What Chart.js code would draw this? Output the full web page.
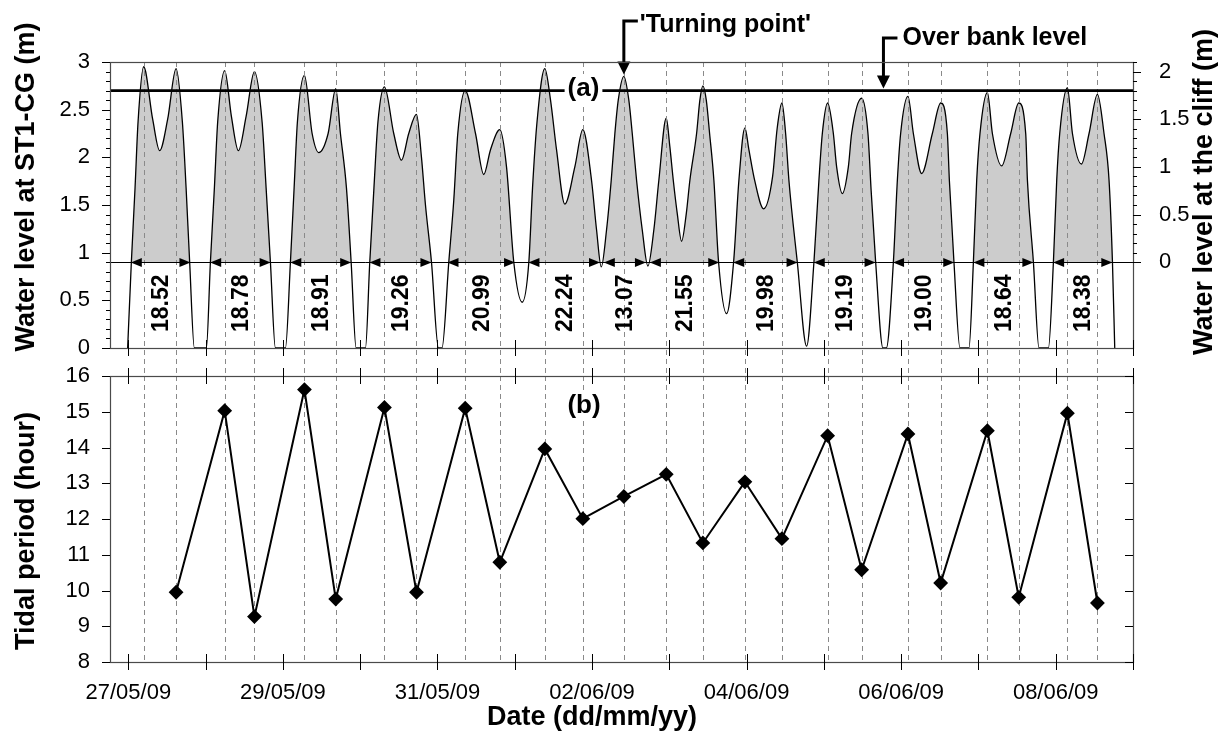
<!DOCTYPE html>
<html>
<head>
<meta charset="utf-8">
<script src="https://cdn.jsdelivr.net/npm/chart.js@4.4.1/dist/chart.umd.min.js"></script>
<style>
  html, body { margin: 0; padding: 0; background: #fff; }
  #wrap { position: relative; width: 1227px; height: 746px; }
  canvas { position: absolute; left: 0; top: 0; }
</style>
</head>
<body>
<div id="wrap">
  <canvas id="lower" width="1227" height="746"></canvas>
  <canvas id="upper" width="1227" height="746"></canvas>
</div>
<script>
// Hours counted from 27/05/09 00:00.

// (a) water level at ST1-CG (m): sample times and levels
const levelHours = [
  -0.22, 0.93, 2.08, 3.01, 4.75, 7.55, 9.72, 12.21, 14.82, 16.78, 17.93, 19.04, 20.50, 24.23,
  25.48, 26.72, 27.74, 29.92, 32.00, 34.17, 36.57, 39.15, 41.54, 42.78, 44.12, 45.67, 48.78,
  50.33, 51.48, 52.50, 54.68, 57.07, 59.12, 62.04, 64.40, 65.86, 67.73, 69.19, 70.74, 73.63,
  74.97, 76.27, 77.51, 79.53, 82.42, 84.82, 87.08, 89.48, 91.03, 92.27, 94.14, 96.31, 97.40,
  99.51, 101.06, 102.31, 104.61, 107.81, 110.38, 112.47, 115.36, 117.44, 119.70, 122.31,
  124.37, 125.52, 126.91, 129.34, 131.11, 132.97, 135.55, 138.66, 141.14, 143.84, 145.40, 146.86,
  148.51, 149.96, 151.09, 152.14, 153.88, 155.43, 156.49, 157.83, 159.59, 161.34,
  163.20, 164.75, 167.05, 168.14, 169.23, 170.47, 171.81, 173.27, 174.39, 176.47, 177.49, 178.42,
  179.48, 180.51, 181.84, 183.30, 185.79,
  187.96, 189.61, 191.47, 192.71, 194.49, 197.28, 200.08, 201.48, 202.97, 204.12, 205.14, 207.75, 210.64,
  212.91, 214.46, 215.52, 217.17, 218.94, 219.96, 221.73, 223.60, 224.62, 227.73, 229.69, 230.68, 232.08, 234.35, 235.40,
  237.58, 238.82, 239.84, 242.11, 243.79, 246.37, 249.69, 252.27, 254.35, 254.97, 256.40, 258.27, 261.06,
  262.43, 263.46, 264.48, 266.78, 268.33, 271.22, 274.02, 276.51, 278.68, 279.21, 281.07, 282.81, 285.73,
  287.28, 288.31, 289.24, 291.63, 293.19, 295.98, 298.35, 300.95, 303.00, 304.56, 305.62, 306.33
];
const levelMetres = [
  0.00, 0.90, 1.68, 2.37, 2.95, 2.40, 2.07, 2.40, 2.93, 2.37, 1.68, 0.90, 0.00, 0.00,
  0.90, 1.68, 2.37, 2.91, 2.43, 2.07, 2.43, 2.90, 2.37, 1.68, 0.90, 0.00, 0.00,
  0.90, 1.68, 2.37, 2.86, 2.25, 2.05, 2.25, 2.72, 2.25, 1.68, 0.90, 0.00, 0.00,
  0.90, 1.68, 2.37, 2.74, 2.25, 1.97, 2.25, 2.45, 2.00, 1.50, 0.90, 0.00, 0.00,
  0.90, 1.55, 2.25, 2.70, 2.25, 1.82, 2.08, 2.29, 1.90, 0.90, 0.48,
  0.90, 1.68, 2.37, 2.93, 2.60, 2.08, 1.51, 1.90, 2.29, 1.76, 1.24, 0.85,
  1.24, 1.76, 2.25, 2.60, 2.85, 2.60, 2.25, 1.76, 1.24, 0.86,
  1.24, 1.76, 2.41, 2.12, 1.76, 1.41, 1.12, 1.41, 1.76, 2.25, 2.60, 2.75,
  2.60, 2.25, 1.76, 0.90, 0.36,
  0.90, 1.76, 2.31, 2.08, 1.76, 1.46, 1.80, 2.30, 2.57, 2.25, 1.76, 0.90, 0.02,
  0.90, 1.76, 2.25, 2.57, 2.25, 1.90, 1.62, 1.90, 2.25, 2.62, 2.25, 1.65, 0.90, 0.00, 0.00,
  0.90, 1.76, 2.25, 2.64, 2.25, 1.83, 2.25, 2.57, 2.25, 1.76, 0.90, 0.00, 0.00,
  0.90, 1.76, 2.25, 2.68, 2.25, 1.91, 2.25, 2.57, 2.25, 1.76, 0.90, 0.00, 0.00,
  0.90, 1.76, 2.25, 2.73, 2.25, 1.93, 2.25, 2.66, 2.25, 1.76, 0.90, 0.00
];

// High-water times (dashed markers) and the tidal period ending at each of them
const highWaterHours = [
  4.75, 14.82, 29.92, 39.15, 54.68, 64.40, 79.53, 89.48, 104.61, 115.36, 129.34, 141.14, 153.88,
  167.05, 178.42, 191.47, 202.97, 217.17, 227.73, 242.11, 252.27, 266.78, 276.51, 291.63, 300.95
];
const tidalPeriodHours = [
  9.95, 15.03, 9.27, 15.62, 9.76, 15.12, 9.95, 15.10, 10.79, 13.96, 12.01, 12.63,
  13.25, 11.33, 13.04, 11.45, 14.33, 10.58, 14.38, 10.21, 14.47, 9.81, 14.96, 9.65
];

// Periods with the water above the cliff datum: start time and duration (hours)
const floodStartHours = [0.77, 25.41, 50.29, 74.87, 99.11, 124.24, 147.66, 161.96, 187.85, 212.86, 237.49, 262.43, 287.20];
const floodDurations = [18.52, 18.78, 18.91, 19.26, 20.99, 22.24, 13.07, 21.55, 19.98, 19.19, 19.00, 18.64, 18.38];

const cliffDatum = 0.9;      // 0 m at the cliff, expressed at ST1-CG
const overBankLevel = 2.7;   // over bank level at ST1-CG
const turningPointIndex = 12;
const overBankNoteHour = 234.5;

const X_MIN = -5.7, X_MAX = 312;
const LOWER_TOP = 376;
const FONT = '"Liberation Sans", Arial, Helvetica, sans-serif';
const tickFont = { family: FONT, size: 22 };
const TITLE_FONT = 'bold 27px ' + FONT;

function halfStepLabel(v) {
  const r = Math.round(v * 10) / 10;
  if (r < 0 || Math.abs(r * 2 - Math.round(r * 2)) > 1e-6) return '';
  return String(r);
}
function dateLabel(v) {
  if (v < 0 || Math.abs(v % 48) > 1e-6) return '';
  const d = new Date(2009, 4, 27 + Math.round(v / 24));
  const p = n => String(n).padStart(2, '0');
  return p(d.getDate()) + '/' + p(d.getMonth() + 1) + '/' + p(d.getFullYear() % 100);
}
function seg(ctx, x0, y0, x1, y1) {
  ctx.beginPath(); ctx.moveTo(x0, y0); ctx.lineTo(x1, y1); ctx.stroke();
}
function tri(ctx, pts) {
  ctx.beginPath(); ctx.moveTo(pts[0], pts[1]); ctx.lineTo(pts[2], pts[3]); ctx.lineTo(pts[4], pts[5]); ctx.closePath(); ctx.fill();
}
function boxedText(ctx, text, cx, cy) {
  const w = ctx.measureText(text).width;
  ctx.fillStyle = '#fff';
  ctx.fillRect(cx - w / 2 - 3, cy - 15, w + 6, 30);
  ctx.fillStyle = '#000';
  ctx.fillText(text, cx, cy);
}
function verticalTitle(ctx, text, cx, cy) {
  ctx.save();
  ctx.font = TITLE_FONT; ctx.fillStyle = '#000';
  ctx.textAlign = 'center'; ctx.textBaseline = 'middle';
  ctx.translate(cx, cy); ctx.rotate(-Math.PI / 2);
  ctx.fillText(text, 0, 0);
  ctx.restore();
}
function dayTicks(ctx, xs, yPix, up, down) {
  for (let h = 0; h <= X_MAX + 1e-6; h += 24) {
    const px = Math.round(xs.getPixelForValue(h)) + 0.5;
    seg(ctx, px, yPix - up, px, yPix + down);
  }
}

const upperDecor = {
  id: 'upperDecor',
  afterDatasetsDraw(chart) {
    const { ctx, chartArea: a, scales: { x, y, y2 } } = chart;
    ctx.save();

    // high-water markers, running down through the gap to the lower panel
    ctx.strokeStyle = '#8a8a8a'; ctx.lineWidth = 1; ctx.setLineDash([5, 4]);
    highWaterHours.forEach(h => {
      const px = Math.round(x.getPixelForValue(h)) + 0.5;
      seg(ctx, px, a.top, px, LOWER_TOP);
    });
    ctx.setLineDash([]);

    // cliff datum and over bank level
    ctx.strokeStyle = '#000';
    ctx.lineWidth = 1;
    const yd = Math.round(y.getPixelForValue(cliffDatum)) + 0.5;
    seg(ctx, a.left, yd, a.right, yd);
    ctx.lineWidth = 2.6;
    const yo = y.getPixelForValue(overBankLevel);
    seg(ctx, a.left, yo, a.right, yo);

    // duration arrows and labels
    ctx.fillStyle = '#000';
    ctx.font = 'bold 23px ' + FONT;
    ctx.textAlign = 'center'; ctx.textBaseline = 'middle';
    floodStartHours.forEach((s, i) => {
      const x0 = x.getPixelForValue(s);
      const x1 = x.getPixelForValue(s + floodDurations[i]);
      tri(ctx, [x0, yd, x0 + 11, yd - 4.5, x0 + 11, yd + 4.5]);
      tri(ctx, [x1, yd, x1 - 11, yd - 4.5, x1 - 11, yd + 4.5]);
      ctx.save();
      ctx.translate((x0 + x1) / 2, y.getPixelForValue(0.47));
      ctx.rotate(-Math.PI / 2);
      ctx.fillText(floodDurations[i].toFixed(2), 0, 1);
      ctx.restore();
    });

    // panel letter
    ctx.font = 'bold 26px ' + FONT;
    boxedText(ctx, '(a)', 583.5, 89);

    // annotations
    ctx.strokeStyle = '#000'; ctx.fillStyle = '#000'; ctx.lineWidth = 3;
    ctx.font = 'bold 25px ' + FONT;
    ctx.textAlign = 'left'; ctx.textBaseline = 'alphabetic';
    const tx = x.getPixelForValue(highWaterHours[turningPointIndex]);
    const tTip = y.getPixelForValue(2.87);
    ctx.beginPath(); ctx.moveTo(tx + 14, 21); ctx.lineTo(tx, 21); ctx.lineTo(tx, tTip - 10); ctx.stroke();
    tri(ctx, [tx, tTip, tx - 6.5, tTip - 13, tx + 6.5, tTip - 13]);
    ctx.fillText("'Turning point'", tx + 16, 32);

    const ox = x.getPixelForValue(overBankNoteHour);
    const oTip = yo - 2;
    ctx.beginPath(); ctx.moveTo(ox + 14, 38); ctx.lineTo(ox, 38); ctx.lineTo(ox, oTip - 10); ctx.stroke();
    tri(ctx, [ox, oTip, ox - 6.5, oTip - 13, ox + 6.5, oTip - 13]);
    ctx.fillText('Over bank level', ox + 19, 45);

    // frame
    ctx.strokeStyle = '#4a4a4a'; ctx.lineWidth = 1.2;
    ctx.strokeRect(a.left + 0.5, a.top + 0.5, a.right - a.left, a.bottom - a.top);

    // ticks
    ctx.strokeStyle = '#000'; ctx.lineWidth = 1;
    for (let k = 0; k <= 30; k++) {
      const py = Math.round(y.getPixelForValue(k / 10)) + 0.5;
      seg(ctx, a.left - (k % 5 === 0 ? 8 : 4), py, a.left, py);
    }
    for (let k = 0; k <= 21; k++) {
      const py = Math.round(y2.getPixelForValue(k / 10)) + 0.5;
      seg(ctx, a.right, py, a.right + (k % 5 === 0 ? 8 : 4), py);
    }
    dayTicks(ctx, x, a.bottom, 8, 8);
    ctx.restore();

    // axis titles
    verticalTitle(ctx, 'Water level at ST1-CG (m)', 27, 187);
    verticalTitle(ctx, 'Water level at the cliff (m)', 1205, 192);
  }
};

const lowerDecor = {
  id: 'lowerDecor',
  beforeDatasetsDraw(chart) {
    const { ctx, chartArea: a, scales: { x } } = chart;
    ctx.save();
    ctx.strokeStyle = '#8a8a8a'; ctx.lineWidth = 1; ctx.setLineDash([5, 4]);
    highWaterHours.forEach(h => {
      const px = Math.round(x.getPixelForValue(h)) + 0.5;
      seg(ctx, px, a.top, px, a.bottom);
    });
    ctx.restore();
  },
  afterDatasetsDraw(chart) {
    const { ctx, chartArea: a, scales: { x, y } } = chart;
    ctx.save();
    ctx.fillStyle = '#000';
    ctx.font = 'bold 26px ' + FONT;
    ctx.textAlign = 'center'; ctx.textBaseline = 'middle';
    boxedText(ctx, '(b)', 584, 406);

    ctx.strokeStyle = '#4a4a4a'; ctx.lineWidth = 1.2;
    ctx.strokeRect(a.left + 0.5, a.top + 0.5, a.right - a.left, a.bottom - a.top);
    ctx.strokeStyle = '#000'; ctx.lineWidth = 1;
    for (let v = 8; v <= 16; v++) {
      const py = Math.round(y.getPixelForValue(v)) + 0.5;
      seg(ctx, a.left - 8, py, a.left, py);
      seg(ctx, a.right - 8, py, a.right, py);
    }
    dayTicks(ctx, x, a.top, 8, 8);
    dayTicks(ctx, x, a.bottom, 8, 8);

    ctx.font = TITLE_FONT;
    ctx.fillText('Date (dd/mm/yy)', 592, 718);
    ctx.restore();

    verticalTitle(ctx, 'Tidal period (hour)', 27, 531);
  }
};

new Chart(document.getElementById('upper'), {
  type: 'line',
  data: {
    datasets: [{
      data: levelHours.map((h, i) => ({ x: h, y: levelMetres[i] })),
      borderColor: '#000',
      borderWidth: 1.3,
      pointRadius: 0,
      cubicInterpolationMode: 'monotone',
      fill: { target: { value: cliffDatum }, above: '#cccccc', below: 'rgba(0,0,0,0)' },
      yAxisID: 'y'
    }]
  },
  options: {
    responsive: false, animation: false, devicePixelRatio: 1,
    layout: { padding: { top: 62, left: 0, right: 0, bottom: 0 } },
    plugins: { legend: { display: false }, tooltip: { enabled: false } },
    scales: {
      x: {
        type: 'linear', min: X_MIN, max: X_MAX,
        grid: { display: false }, border: { display: false },
        ticks: { display: false },
        afterFit: s => { s.height = 746 - 348; }
      },
      y: {
        position: 'left', min: 0, max: 3,
        grid: { display: false }, border: { display: false },
        ticks: { stepSize: 0.1, autoSkip: false, padding: 12, font: tickFont, color: '#000', callback: halfStepLabel },
        afterFit: s => { s.width = 110; }
      },
      y2: {
        position: 'right', min: -0.9, max: 2.1,
        grid: { display: false }, border: { display: false },
        ticks: { stepSize: 0.1, autoSkip: false, padding: 18, font: tickFont, color: '#000', callback: halfStepLabel },
        afterFit: s => { s.width = 94; }
      }
    }
  },
  plugins: [upperDecor]
});

new Chart(document.getElementById('lower'), {
  type: 'line',
  data: {
    datasets: [{
      data: tidalPeriodHours.map((p, i) => ({ x: highWaterHours[i + 1], y: p })),
      borderColor: '#000',
      borderWidth: 2,
      pointStyle: 'rectRot',
      pointRadius: 6,
      pointBackgroundColor: '#000',
      pointBorderColor: '#000',
      tension: 0
    }]
  },
  options: {
    responsive: false, animation: false, devicePixelRatio: 1,
    layout: { padding: { top: LOWER_TOP, left: 0, right: 94, bottom: 0 } },
    plugins: { legend: { display: false }, tooltip: { enabled: false } },
    scales: {
      x: {
        type: 'linear', min: X_MIN, max: X_MAX,
        grid: { display: false }, border: { display: false },
        ticks: { stepSize: 24, includeBounds: false, autoSkip: false, maxRotation: 0, padding: 10, font: tickFont, color: '#000', callback: dateLabel },
        afterFit: s => { s.height = 746 - 662; }
      },
      y: {
        position: 'left', min: 8, max: 16,
        grid: { display: false }, border: { display: false },
        ticks: { stepSize: 1, autoSkip: false, padding: 12, font: tickFont, color: '#000' },
        afterFit: s => { s.width = 110; }
      }
    }
  },
  plugins: [lowerDecor]
});
</script>
</body>
</html>
